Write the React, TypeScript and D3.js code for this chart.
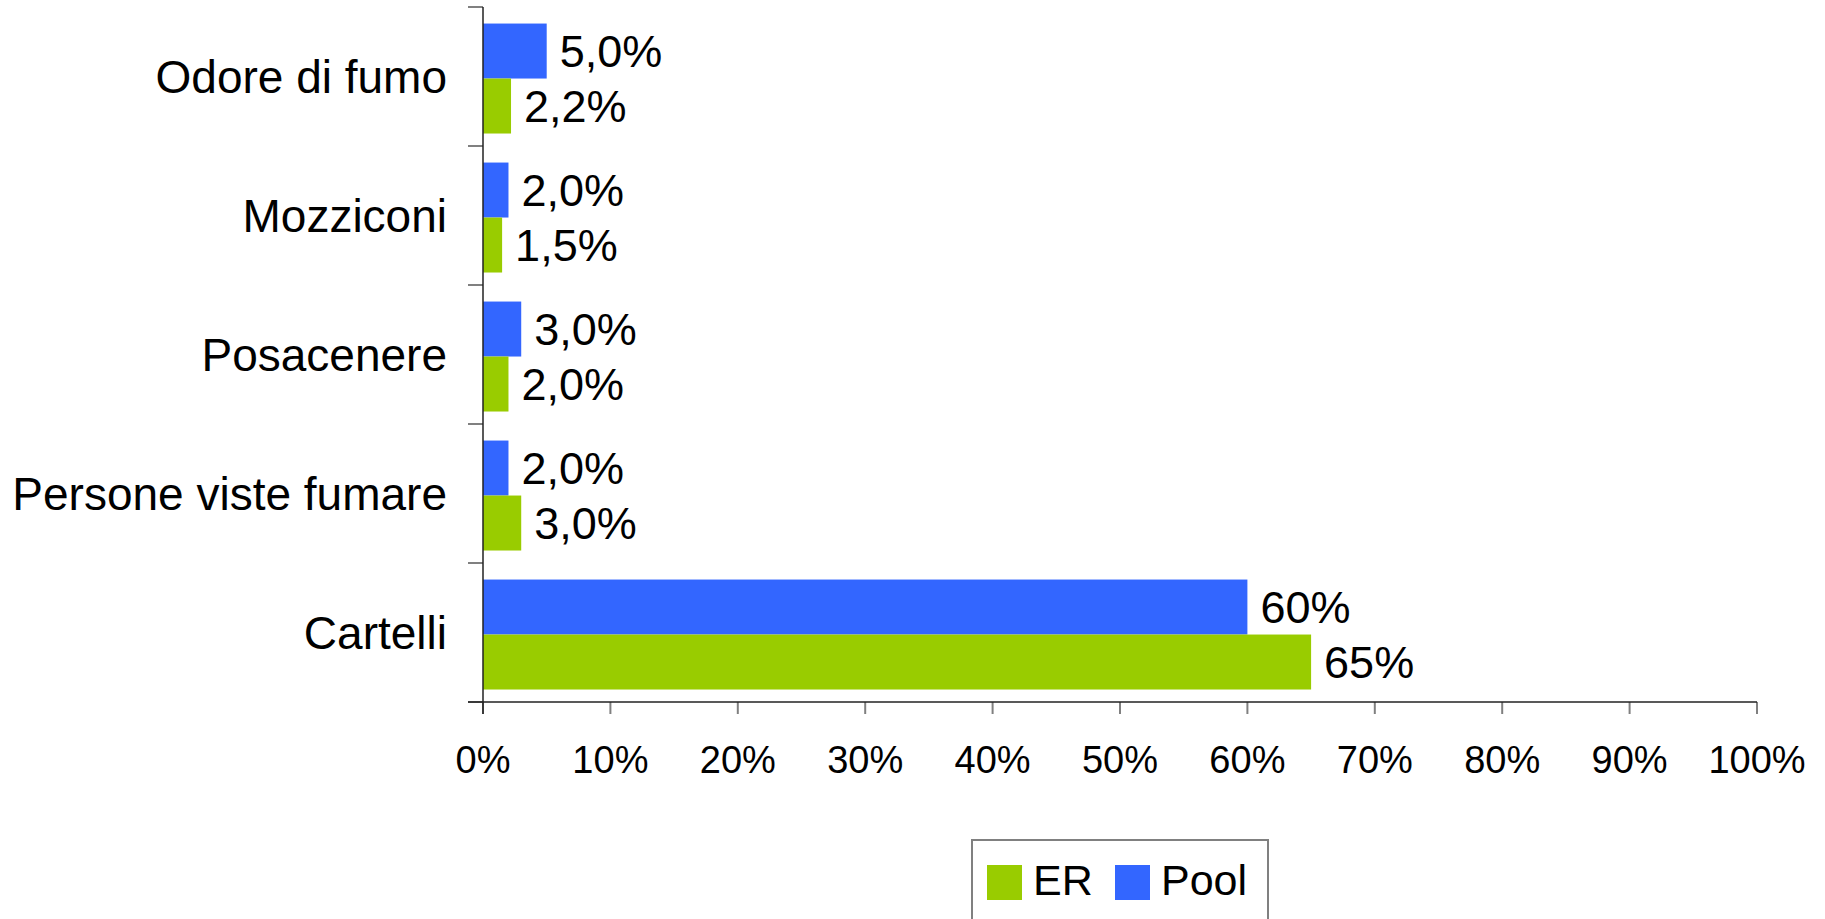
import * as d3 from 'd3';
import { useEffect, useRef } from 'react';

const categories = ['Odore di fumo', 'Mozziconi', 'Posacenere', 'Persone viste fumare', 'Cartelli'];
const series = ['Pool', 'ER'];
const poolValues = [5.0, 2.0, 3.0, 2.0, 60];
const erValues = [2.2, 1.5, 2.0, 3.0, 65];
const poolLabels = ['5,0%', '2,0%', '3,0%', '2,0%', '60%'];
const erLabels = ['2,2%', '1,5%', '2,0%', '3,0%', '65%'];
const xTicks = [0, 10, 20, 30, 40, 50, 60, 70, 80, 90, 100];
const legendItems = ['ER', 'Pool'];

const colors: Record<string, string> = { Pool: '#3366FF', ER: '#99CC00' };
const FONT = '"Liberation Sans", Arial, sans-serif';

export default function App() {
    const ref = useRef<SVGSVGElement>(null);

    useEffect(() => {
        drawChart();
    }, []);

    function drawChart() {
        const svg = d3.select(ref.current);
        svg.selectAll('*').remove();

        const left = 483, right = 1757, top = 7, bottom = 702;

        const x = d3.scaleLinear().domain([0, 100]).range([left, right]);
        const y = d3.scaleBand().domain(categories).range([top, bottom]).padding(0);
        const ySub = d3.scaleBand()
            .domain(series)
            .range([0, y.step()])
            .paddingInner(0)
            .paddingOuter(0.264)
            .align(0.57);

        const rows = categories.map((c, i) => ({
            cat: c,
            vals: [
                { key: 'Pool', v: poolValues[i], label: poolLabels[i] },
                { key: 'ER', v: erValues[i], label: erLabels[i] },
            ],
        }));

        // bars
        const g = svg.selectAll('g.row')
            .data(rows)
            .enter()
            .append('g')
            .attr('class', 'row')
            .attr('transform', d => 'translate(0,' + y(d.cat) + ')');

        g.selectAll('rect')
            .data(d => d.vals)
            .enter()
            .append('rect')
            .attr('x', x(0))
            .attr('y', d => ySub(d.key)!)
            .attr('width', d => x(d.v) - x(0))
            .attr('height', ySub.bandwidth())
            .attr('fill', d => colors[d.key]);

        g.selectAll('text.val')
            .data(d => d.vals)
            .enter()
            .append('text')
            .attr('class', 'val')
            .attr('x', d => x(d.v) + 13)
            .attr('y', d => ySub(d.key)! + ySub.bandwidth() / 2 + 16)
            .attr('font-family', FONT)
            .attr('font-size', 45)
            .attr('fill', '#000')
            .text(d => d.label);

        // category labels
        svg.selectAll('text.cat')
            .data(categories)
            .enter()
            .append('text')
            .attr('class', 'cat')
            .attr('x', 447)
            .attr('y', d => y(d)! + y.bandwidth() / 2 + 16.5)
            .attr('text-anchor', 'end')
            .attr('font-family', FONT)
            .attr('font-size', 46)
            .attr('fill', '#000')
            .text(d => d);

        // y axis ticks at category boundaries
        const boundaries = categories.map(c => y(c)!).concat([bottom]);
        svg.selectAll('line.ytick')
            .data(boundaries)
            .enter()
            .append('line')
            .attr('x1', 468)
            .attr('x2', left)
            .attr('y1', d => d)
            .attr('y2', d => d)
            .attr('stroke', '#808080')
            .attr('stroke-width', 2);

        // x axis ticks
        svg.selectAll('line.xtick')
            .data(xTicks)
            .enter()
            .append('line')
            .attr('x1', d => x(d))
            .attr('x2', d => x(d))
            .attr('y1', bottom)
            .attr('y2', 714)
            .attr('stroke', '#808080')
            .attr('stroke-width', 2);

        svg.selectAll('text.xlab')
            .data(xTicks)
            .enter()
            .append('text')
            .attr('x', d => x(d))
            .attr('y', 773)
            .attr('text-anchor', 'middle')
            .attr('font-family', FONT)
            .attr('font-size', 38)
            .attr('fill', '#000')
            .text(d => d + '%');

        // axis lines
        svg.append('line')
            .attr('x1', left).attr('x2', left)
            .attr('y1', top).attr('y2', 714)
            .attr('stroke', '#222').attr('stroke-width', 1.5);
        svg.append('line')
            .attr('x1', 468).attr('x2', right)
            .attr('y1', bottom).attr('y2', bottom)
            .attr('stroke', '#222').attr('stroke-width', 1.5);

        // legend
        const legend = svg.append('g');
        legend.append('rect')
            .attr('x', 972).attr('y', 840)
            .attr('width', 296).attr('height', 100)
            .attr('fill', '#fff')
            .attr('stroke', '#808080')
            .attr('stroke-width', 2);
        const legendX = [987, 1115];
        legendItems.forEach((k, i) => {
            legend.append('rect')
                .attr('x', legendX[i]).attr('y', 865)
                .attr('width', 35).attr('height', 35)
                .attr('fill', colors[k]);
            legend.append('text')
                .attr('x', legendX[i] + 46).attr('y', 895)
                .attr('font-family', FONT)
                .attr('font-size', 43)
                .attr('fill', '#000')
                .text(k);
        });
    }

    return (
        <svg
            ref={ref}
            width={1825}
            height={919}
            style={{ position: 'fixed', left: 0, top: 0, background: '#fff' }}
        />
    );
}
